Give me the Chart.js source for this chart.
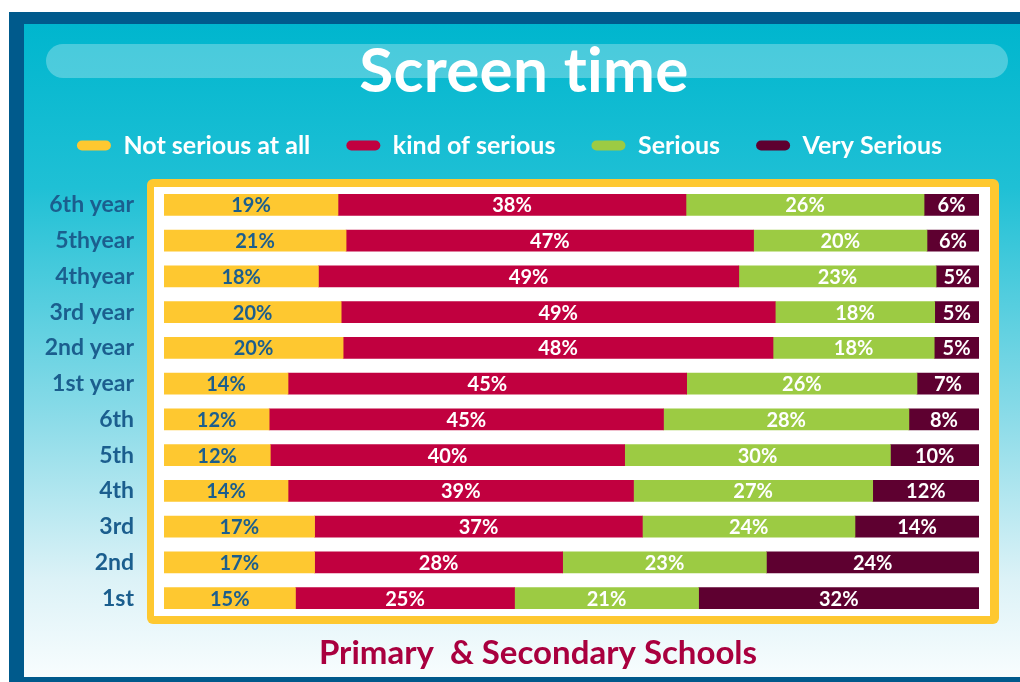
<!DOCTYPE html>
<html>
<head>
<meta charset="utf-8">
<script src="https://cdn.jsdelivr.net/npm/chart.js@4"></script>
<style>
  html, body { margin: 0; padding: 0; background: #fff; }
  canvas { display: block; }
</style>
</head>
<body>
<canvas id="screen-chart" width="1020" height="682"></canvas>
<script>
// School years (top to bottom) and the answers in percent
const years = ["6th year", "5thyear", "4thyear", "3rd year", "2nd year", "1st year", "6th", "5th", "4th", "3rd", "2nd", "1st"];
const notSerious  = [19, 21, 18, 20, 20, 14, 12, 12, 14, 17, 17, 15];
const kindSerious = [38, 47, 49, 49, 48, 45, 45, 40, 39, 37, 28, 25];
const serious     = [26, 20, 23, 18, 18, 26, 28, 30, 27, 24, 23, 21];
const verySerious = [6, 6, 5, 5, 5, 7, 8, 10, 12, 14, 24, 32];

const seriesNames = ["Not serious at all", "kind of serious", "Serious", "Very Serious"];
const seriesColors = ["#fec830", "#c1003f", "#9ccb43", "#5e0030"];
const rawSeries = [notSerious, kindSerious, serious, verySerious];

// bars fill the full width (100% stacked), labels keep the raw numbers
const rowTotals = years.map((y, i) => rawSeries.reduce((s, arr) => s + arr[i], 0));

Chart.defaults.font.family = "Lato";

const background = {
  id: "background",
  beforeDraw(chart) {
    const ctx = chart.ctx;
    ctx.save();
    ctx.fillStyle = "#fff";
    ctx.fillRect(0, 0, 1020, 682);
    // dark blue frame
    ctx.fillStyle = "#005a8c";
    ctx.fillRect(9, 12, 1011, 670);
    // cyan to white gradient
    const g = ctx.createLinearGradient(0, 24, 0, 677);
    g.addColorStop(0, "#00b6ce");
    g.addColorStop(0.25, "#1fc0d5");
    g.addColorStop(0.6, "#8adbe8");
    g.addColorStop(0.85, "#dcf2f7");
    g.addColorStop(1, "#f8fdfe");
    ctx.fillStyle = g;
    ctx.fillRect(24, 24, 996, 653);
    // light band behind the title
    ctx.fillStyle = "rgba(255,255,255,0.28)";
    ctx.beginPath();
    ctx.roundRect(46, 44, 962, 34, 17);
    ctx.fill();
    // yellow box round the bars
    ctx.fillStyle = "#fec830";
    ctx.beginPath();
    ctx.roundRect(147, 179, 852, 445, 6);
    ctx.fill();
    ctx.fillStyle = "#fff";
    ctx.fillRect(154, 187, 836, 429);
    // title and caption
    ctx.textAlign = "center";
    ctx.textBaseline = "middle";
    ctx.fillStyle = "#fff";
    ctx.font = "bold 62px Lato";
    ctx.letterSpacing = "0.3px"; // keeps "ti" from joining
    ctx.fillText("Screen time", 524, 72);
    ctx.letterSpacing = "0px";
    ctx.fillStyle = "#a9003f";
    ctx.font = "bold 33px Lato";
    ctx.fillText("Primary  & Secondary Schools", 538, 653);
    ctx.restore();
  }
};

const barLabels = {
  id: "barLabels",
  afterDatasetsDraw(chart) {
    const ctx = chart.ctx;
    ctx.save();
    ctx.font = "bold 20px Lato";
    ctx.textAlign = "center";
    ctx.textBaseline = "middle";
    chart.data.datasets.forEach((ds, i) => {
      chart.getDatasetMeta(i).data.forEach((bar, j) => {
        ctx.fillStyle = i === 0 ? "#1b5e8e" : "#fff";
        ctx.fillText(rawSeries[i][j] + "%", (bar.x + bar.base) / 2, bar.y + 1);
      });
    });
    ctx.restore();
  }
};

new Chart("screen-chart", {
  type: "bar",
  data: {
    labels: years,
    datasets: rawSeries.map((arr, i) => ({
      label: seriesNames[i],
      data: arr.map((v, j) => v / rowTotals[j] * 100),
      backgroundColor: seriesColors[i],
      borderWidth: 0,
      barThickness: 21
    }))
  },
  options: {
    indexAxis: "y",
    responsive: false,
    animation: false,
    layout: { padding: { top: 97, left: 40, right: 41, bottom: 66 } },
    plugins: {
      tooltip: { enabled: false },
      legend: {
        position: "top",
        labels: {
          color: "#fff",
          font: { size: 25, weight: "bold" },
          boxWidth: 34,
          boxHeight: 10,
          useBorderRadius: true,
          borderRadius: 5,
          padding: 36
        }
      }
    },
    scales: {
      x: {
        stacked: true,
        position: "top",
        min: 0,
        max: 100,
        ticks: { display: false },
        grid: { display: false },
        border: { display: false },
        afterFit(scale) { scale.height = 19; }
      },
      y: {
        stacked: true,
        grid: { display: false },
        border: { display: false },
        ticks: {
          color: "#1b5e8e",
          font: { size: 23, weight: "bold" },
          padding: 22
        },
        afterFit(scale) { scale.width = 124; }
      }
    }
  },
  plugins: [background, barLabels]
});
</script>
</body>
</html>
